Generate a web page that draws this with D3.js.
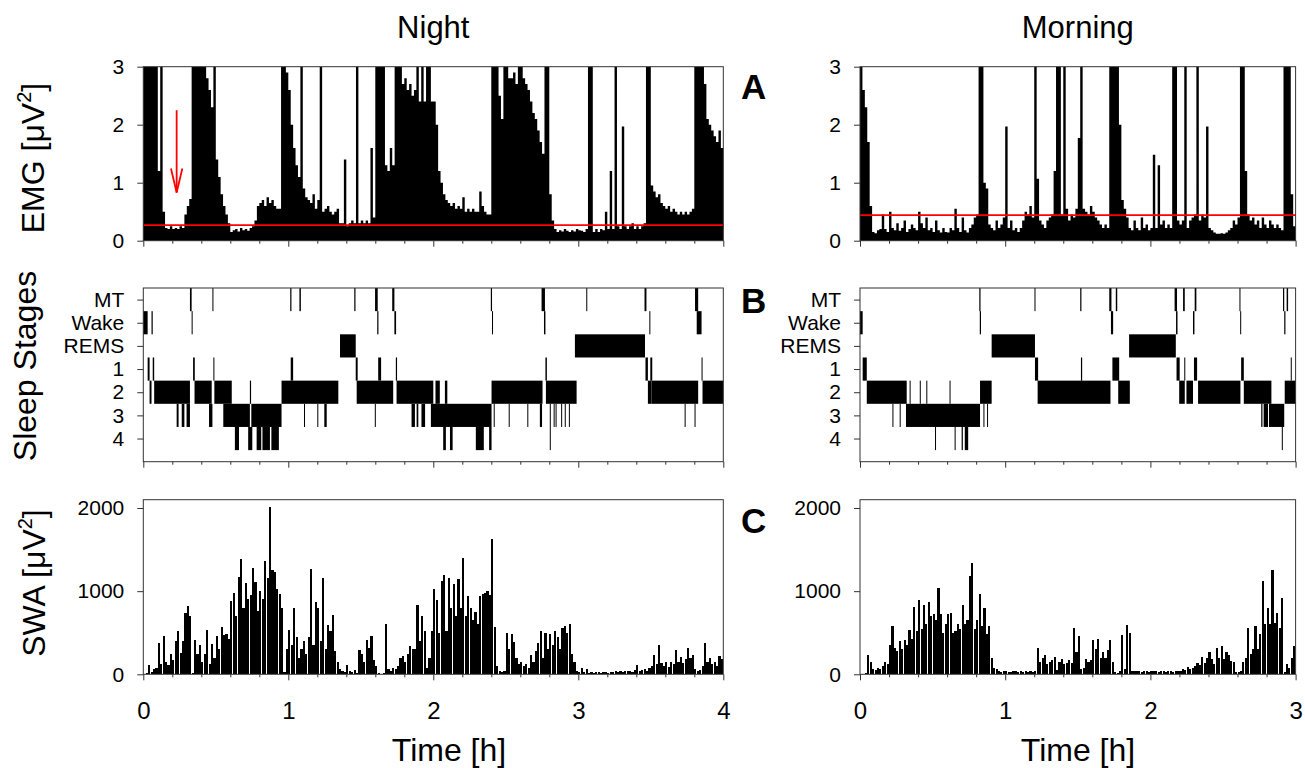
<!DOCTYPE html>
<html><head><meta charset="utf-8">
<script src="https://cdn.jsdelivr.net/npm/d3@7"></script>
<style>body{margin:0;background:#fff}svg{display:block;font-family:"Liberation Sans",Arial,sans-serif}</style>
</head><body><svg id="c" width="1305" height="768"></svg>
<script>
// ---------- data (per-minute values) ----------
const emgNight = [
3,3,3,3,3,3,1.2,3,0.5,0.22,
0.2,0.25,0.2,0.22,0.2,0.25,0.22,0.45,0.6,0.72,
3,3,3,3,3,3,2.8,2.6,2.3,3,
1.4,1.1,0.8,0.6,0.45,0.3,0.15,0.18,0.2,0.16,
0.22,0.18,0.2,0.17,0.22,0.25,0.35,0.6,0.65,0.7,
0.6,0.75,0.65,0.7,0.6,0.55,0.55,3,3,2.9,
2.6,2.0,1.6,1.3,1.1,3,0.9,0.75,0.7,0.65,
0.8,0.55,0.7,3,0.5,0.55,0.6,0.5,0.45,0.5,
0.55,0.3,0.3,1.4,0.25,0.3,0.35,0.3,3,0.3,
0.35,0.3,0.35,0.3,1.6,0.4,3,3,3,3,
1.3,1.2,1.6,1.3,3,3,3,2.7,2.8,2.6,
2.7,2.5,2.6,3,2.4,3,2.4,3,3,2.4,
2.4,2.0,1.2,1.0,0.8,0.7,0.65,0.6,0.65,0.55,
0.6,0.55,0.75,0.5,0.55,0.5,0.55,0.5,0.5,0.85,
0.6,0.5,0.45,0.45,3,3,3,2.5,2.1,3,
3,2.8,2.8,2.9,2.7,3,3,2.8,2.7,2.6,
2.4,2.2,2.1,1.9,1.7,1.5,3,3,0.8,0.35,
0.2,0.15,0.18,0.16,0.2,0.17,0.15,0.18,0.16,0.2,
0.18,0.17,0.15,0.2,3,3,0.15,0.2,0.15,0.2,
0.18,0.5,0.2,1.2,0.2,3,0.25,0.2,1.97,0.25,
0.2,0.25,0.3,0.2,0.25,0.2,0.25,0.3,3,3,
0.95,0.85,0.75,0.8,0.65,0.6,0.55,0.6,0.5,0.55,
0.5,0.45,0.5,0.45,0.5,0.45,0.5,0.55,3,3,
3,3,2.7,2.1,2.0,1.9,1.8,1.7,1.9,1.6];

const emgMorning = [
3,2.6,2.3,1.7,0.6,0.15,0.13,0.18,0.2,0.45,
0.2,0.15,0.5,0.22,0.18,0.3,0.17,0.22,0.35,0.15,
0.2,0.28,0.22,0.18,0.5,0.3,0.22,0.4,0.18,0.22,
0.15,0.35,0.18,0.14,0.22,0.15,0.14,0.22,0.18,0.55,
0.22,0.15,0.4,0.18,0.14,0.22,0.28,0.4,0.45,3,
3,1.0,0.9,0.28,0.22,0.18,0.35,0.22,0.28,0.4,
1.97,0.22,0.35,0.18,0.22,0.15,0.22,0.35,0.5,0.45,
0.6,0.4,3,1.07,0.35,0.28,0.22,0.35,0.4,0.45,
1.2,3,3,0.45,3,0.55,0.35,0.45,0.4,0.55,
1.77,3,0.55,0.5,0.45,0.6,0.5,0.4,0.35,0.28,
0.22,0.28,0.22,3,3,3,3,2.0,0.7,0.55,
0.4,0.22,0.18,0.35,0.22,0.18,0.4,0.22,0.28,0.18,
0.22,1.48,0.22,1.3,0.28,0.35,0.22,0.28,0.22,3,
3,0.35,0.28,0.35,3,0.22,0.35,0.4,0.45,3,
0.35,0.45,0.4,1.97,0.22,0.18,0.14,0.12,0.12,0.13,
0.12,0.14,0.18,0.22,0.35,0.28,0.4,3,3,1.2,
0.45,0.35,0.4,0.28,0.35,0.22,0.4,0.28,0.22,0.35,
0.28,0.22,0.28,0.22,0.18,3,3,3,0.8,0.25];

const swaNight = [
5,20,110,30,60,70,375,120,455,150,
110,240,170,400,516,260,400,738,826,700,
20,415,250,355,150,250,536,120,363,200,
455,300,569,476,480,420,879,972,700,1169,
1391,800,1100,900,950,1274,1113,760,1000,900,
1363,1161,2008,1250,1230,1030,960,800,30,300,
536,350,798,450,200,300,400,250,450,1262,
350,871,798,400,1153,300,597,520,710,280,
150,60,40,30,113,40,30,50,20,294,
250,150,415,320,455,173,100,10,5,10,
605,60,40,80,60,100,200,220,150,250,
335,300,300,839,400,698,520,80,200,516,
1020,899,500,1121,1190,520,1161,800,1089,700,
1141,800,1403,700,940,800,650,750,600,940,
960,980,1000,950,1625,565,100,40,30,40,
500,300,480,390,200,120,150,100,120,80,
230,150,275,375,520,200,500,300,480,350,
520,450,300,556,575,500,605,250,150,40,
30,70,25,65,20,25,20,30,25,20,
30,25,20,30,25,35,30,40,30,45,
35,40,30,50,113,40,50,60,40,80,
100,234,120,355,130,100,150,90,150,120,
294,150,210,130,180,314,200,230,60,40,
50,100,375,150,200,120,150,100,220,180];

const swaMorning = [
0,0,10,234,150,60,50,80,60,100,
153,120,355,585,315,280,395,300,415,350,
536,420,806,520,899,550,839,600,871,700,
720,650,1040,720,500,600,720,738,500,520,
600,550,839,600,650,1181,1343,550,650,968,
580,798,480,577,200,72,60,40,30,35,
40,30,30,40,35,30,40,30,35,30,
40,30,35,315,150,193,234,120,150,170,
214,50,150,180,120,140,170,130,556,270,
455,60,80,180,150,170,415,300,427,200,
274,200,294,415,150,30,20,40,476,60,
597,496,40,40,35,45,30,40,35,30,
40,45,35,30,40,35,30,40,35,30,
35,40,40,60,50,90,60,80,100,130,
110,214,140,200,274,180,120,315,200,335,
190,274,230,160,150,30,25,40,150,200,
556,250,300,577,310,484,1121,600,800,600,
1250,617,738,560,919,30,120,80,200,335];

const stageLabels = ["MT","Wake","REMS","1","2","3","4"];
// hypnogram intervals: [start min, end min, stage index]
const hypnoNight = [
[0,1.8,1],[1.8,2.6,3],[2.6,3.4,4],[3.4,3.9,1],[3.9,4.5,3],[4.5,19.3,4],
[13.8,14.6,5],[15.9,17.0,5],[17.9,19.3,5],[19.3,20.0,0],[20.0,20.4,1],[20.6,21.3,3],
[21.2,28.3,4],[27.2,28.6,5],[28.6,29.0,0],[29.0,29.4,3],[29.4,36.6,4],
[33.1,44.1,5],[44.1,44.6,4],[44.7,57.2,5],[37.9,39.6,6],[43.4,45.1,6],[46.9,48.8,6],[49.3,52.4,6],[53.0,56.1,6],
[57.2,80.7,4],[61.0,62.0,3],[60.8,61.3,0],[64.6,65.2,0],[66.5,66.9,5],[72.0,72.4,5],[74.9,75.9,5],
[81.4,87.9,2],[87.3,87.8,0],[87.9,88.7,3],[88.3,103.4,4],[95.8,96.1,5],[95.9,97.0,0],[96.8,97.3,1],[97.2,98.4,3],
[103.0,103.9,0],[103.9,104.6,1],[104.5,105.0,3],[104.8,120.0,4],[111.0,112.4,5],[113.1,113.8,5],[115.1,116.6,5],
[119.0,144.1,5],[120.9,122.7,4],[124.8,125.8,4],[124.1,125.2,6],[126.9,128.0,6],[137.6,140.9,6],[143.1,144.1,6],
[143.8,144.3,0],[144.3,144.7,1],[144.1,165.2,4],[145.0,145.3,5],[151.2,151.5,5],[158.9,159.2,5],[164.1,165.0,5],
[164.8,166.2,0],[165.8,166.4,1],[166.4,167.0,3],[166.6,179.3,4],[168.2,168.5,5],[168.2,168.5,6],[169.8,170.1,5],
[170.6,170.9,5],[172.9,173.2,5],[174.4,174.7,5],[176.1,176.4,5],[178.6,207.6,2],[183.3,183.6,0],
[207.4,208.2,0],[207.8,208.8,3],[208.8,210.3,4],[209.4,209.8,1],[209.8,210.6,3],[210.3,229.6,4],
[224.0,224.3,5],[228.1,228.5,5],[228.3,229.6,0],[229.0,231.0,1],[231.0,231.4,3],[231.4,240,4]];

const hypnoMorning = [
[0,1.1,1],[1.1,2.8,3],[2.8,19.3,4],[13.4,13.7,5],[16.4,16.7,5],[19.0,49.6,5],
[20.5,20.8,4],[24.7,25.0,4],[27.4,27.7,4],[37.0,37.3,4],[31.0,31.4,6],[39.1,39.5,6],[42.0,42.5,6],[43.3,44.7,6],
[49.3,49.8,0],[49.5,50.0,1],[49.6,54.4,4],[51.0,51.3,5],[52.5,52.8,5],[54.4,72.3,2],[72.1,72.5,0],[72.3,73.6,3],
[73.4,103.5,4],[91.0,91.5,0],[91.3,91.8,3],[103.0,103.9,0],[103.7,104.6,1],[104.3,107.1,3],[105.7,106.3,0],
[106.7,111.5,4],[111.2,130.5,2],[130.0,131.0,0],[130.6,131.2,1],[130.8,132.1,3],[131.9,134.2,4],[133.5,134.2,0],
[134.0,134.4,3],[134.9,137.6,4],[137.6,138.2,1],[138.3,139.0,0],[138.0,139.3,3],[139.7,157.2,4],[156.8,157.2,0],
[157.1,157.5,1],[157.5,158.6,3],[158.6,170,4],[165.8,166.3,5],[166.8,168.6,5],[169.0,175.3,5],[174.3,174.7,6],
[174.8,175.3,0],[176.3,176.9,0],[175.3,175.8,1],[178.0,178.4,3],[175.5,180,4]];

const emgThreshold = {night: 0.27, morning: 0.44};
const arrow = {time: 0.23, from: 2.25, to: 0.83};
const columnTitles = ["Night","Morning"];
const panelLetters = ["A","B","C"];

// ---------- layout ----------
const svg = d3.select("#c");
const FONT = '"Liberation Sans",Arial,sans-serif';
const yA = d3.scaleLinear([0,3],[240.7,66.7]);
const yB = d3.scaleLinear([-0.5,7],[288,461.7]);
const yC = d3.scaleLinear([0,2100],[674.3,499.7]);

const cols = [
  {x: d3.scaleLinear([0,4],[143.3,723.3]), hours:4, emg:emgNight, swa:swaNight, hyp:hypnoNight, thr:emgThreshold.night, title:columnTitles[0], timeX:449},
  {x: d3.scaleLinear([0,3],[860,1295.6]), hours:3, emg:emgMorning, swa:swaMorning, hyp:hypnoMorning, thr:emgThreshold.morning, title:columnTitles[1], timeX:1078}
];

function styleAxis(g, fs){
  g.select(".domain").remove();
  g.selectAll("line").attr("stroke","#333").attr("stroke-width",1);
  g.selectAll("text").attr("font-size",fs).attr("fill","#000").attr("font-family",FONT);
}

cols.forEach((c, ci) => {
  const x = c.x, H = c.hours;
  const step = x(1/60) - x(0);
  // EMG as a stepped filled area (one step per minute)
  const emgPts = c.emg.map((v,i)=>[i,v]).concat([[c.emg.length, c.emg[c.emg.length-1]]]);
  svg.append("path").datum(emgPts)
    .attr("d", d3.area().curve(d3.curveStepAfter)
      .x(d=>x(d[0]/60)).y0(yA(0)).y1(d=>yA(Math.min(d[1],3))))
    .attr("fill","#000");
  // threshold line
  svg.append("line").attr("x1",x(0)).attr("x2",x(H)).attr("y1",yA(c.thr)).attr("y2",yA(c.thr))
    .attr("stroke","#ff0000").attr("stroke-width",1.8);
  // hypnogram
  svg.append("g").selectAll("rect").data(c.hyp).join("rect")
    .attr("x",d=>x(d[0]/60)).attr("width",d=>Math.max(1, x(d[1]/60)-x(d[0]/60)))
    .attr("y",d=>yB(d[2]-0.5)).attr("height",d=>yB(d[2]+0.5)-yB(d[2]-0.5))
    .attr("fill","#000");
  // SWA bars
  svg.append("g").attr("shape-rendering","crispEdges").selectAll("rect").data(c.swa).join("rect")
    .attr("x",(d,i)=>x(i/60)).attr("width",step*0.88)
    .attr("y",d=>yC(d)).attr("height",d=>yC(0)-yC(d))
    .attr("fill","#000");
  // frames and axes
  [[yA,[0,1,2,3],null],[yB,d3.range(0,7),i=>stageLabels[i]],[yC,[0,1000,2000],d3.format("d")]].forEach(([ys,tv,fmt],pi)=>{
    const r = ys.range();
    svg.append("rect").attr("x",x(0)).attr("y",Math.min(...r)).attr("width",x(H)-x(0)).attr("height",Math.abs(r[1]-r[0]))
      .attr("fill","none").attr("stroke","#333").attr("stroke-width",1);
    const ax = d3.axisLeft(ys).tickValues(tv).tickSize(6).tickPadding(13);
    if (fmt) ax.tickFormat(fmt); else ax.tickFormat(d3.format("d"));
    svg.append("g").attr("transform",`translate(${x(0)},0)`).call(ax).call(g=>styleAxis(g,21));
    const base = Math.max(...r);
    const bx = d3.axisBottom(x).tickValues(d3.range(0,H+0.001,1)).tickSize(6).tickPadding(21.4)
      .tickFormat(pi===2 ? d3.format("d") : "");
    svg.append("g").attr("transform",`translate(0,${base})`).call(bx).call(g=>styleAxis(g,24));
    const mx = d3.axisBottom(x).tickValues(d3.range(0,H*5+1).map(k=>k/5).filter(v=>Math.abs(v-Math.round(v))>1e-6))
      .tickSize(3).tickFormat("");
    svg.append("g").attr("transform",`translate(0,${base})`).call(mx).call(g=>styleAxis(g,10));
  });
  // column title
  svg.append("text").attr("x",(x(0)+x(H))/2).attr("y",38).attr("text-anchor","middle")
    .attr("font-size",31).text(c.title);
  svg.append("text").attr("x",c.timeX).attr("y",761).attr("text-anchor","middle")
    .attr("font-size",32).text("Time [h]");
});

// red arrow (night EMG)
{
  const x = cols[0].x, ax = x(arrow.time), y1 = yA(arrow.from), y2 = yA(arrow.to);
  const g = svg.append("g").attr("stroke","#ff0000").attr("stroke-width",1.8).attr("fill","none");
  g.append("line").attr("x1",ax).attr("x2",ax).attr("y1",y1).attr("y2",y2);
  g.append("path").attr("d",`M${ax-5.7},${y2-24}L${ax},${y2}L${ax+5.7},${y2-24}`);
}

// panel letters
[[99,panelLetters[0]],[313,panelLetters[1]],[533,panelLetters[2]]].forEach(([y,t])=>{
  svg.append("text").attr("x",741).attr("y",y).attr("font-size",35).attr("font-weight","bold").text(t);
});

// y-axis titles
function yTitle(xp, yp, main, sup, close){
  const t = svg.append("text").attr("transform",`translate(${xp},${yp}) rotate(-90)`)
    .attr("text-anchor","middle").attr("font-size",32);
  t.append("tspan").text(main);
  if (sup){
    t.append("tspan").attr("font-size",20).attr("dy",-13).text(sup);
    t.append("tspan").attr("dy",13).text(close);
  }
}
yTitle(44,158,"EMG [\u03BCV","2","]");
yTitle(36,366,"Sleep Stages");
yTitle(45,583,"SWA [\u03BCV","2","]");
</script></body></html>
